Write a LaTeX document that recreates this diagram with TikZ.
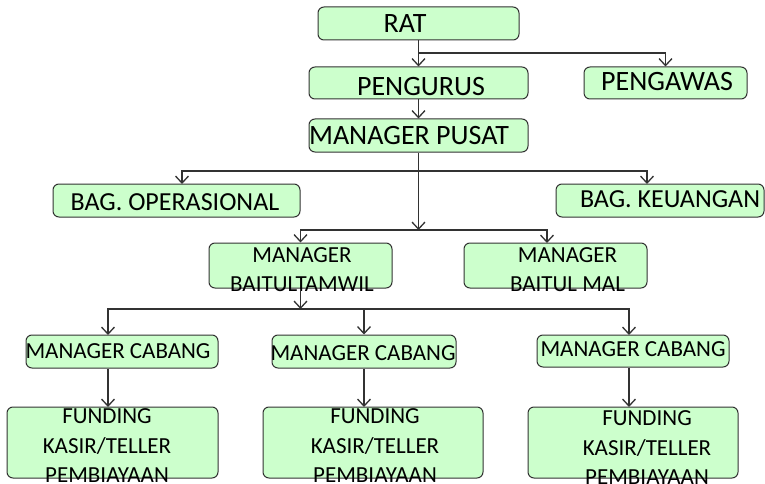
\documentclass[tikz,border=0pt]{standalone}
\usepackage{fontspec}
\setmainfont{Carlito}
\usetikzlibrary{arrows.meta}
\definecolor{mygreen}{RGB}{204, 255, 204}
\definecolor{mygray}{RGB}{50, 50, 50}
\tikzset{>={Straight Barb[length=7pt,width=13pt]}}
\tikzset{box/.style={draw=mygray, fill=mygreen, rounded corners=6pt, line width=1pt, inner sep=0pt},
  link/.style={mygray, line width=1.3pt},
  bigtxt/.style={inner sep=0pt, font=\fontsize{28}{30}\selectfont},
  midtxt/.style={inner sep=0pt, font=\fontsize{26}{28}\selectfont},
  smalltxt/.style={inner sep=0pt, align=center, font=\fontsize{23}{29.5}\selectfont}}

\begin{document}
\begin{tikzpicture}[x=1pt, y=-1pt]
\useasboundingbox (0, 0) rectangle (765, 484);

% boxes
\node[box, minimum width=201pt, minimum height=33pt] (rat) at (418.5, 23.5) {};
\node[box, minimum width=219pt, minimum height=32pt] (pengurus) at (418.5, 83) {};
\node[box, minimum width=163pt, minimum height=32pt] (pengawas) at (665.5, 83) {};
\node[box, minimum width=219pt, minimum height=33pt] (pusat) at (418.5, 135.5) {};
\node[box, minimum width=247pt, minimum height=33pt] (operasional) at (176.5, 200.5) {};
\node[box, minimum width=208pt, minimum height=33pt] (keuangan) at (660, 200.5) {};
\node[box, minimum width=183pt, minimum height=45pt] (tamwil) at (300.5, 265.5) {};
\node[box, minimum width=183pt, minimum height=45pt] (baitulmal) at (555.5, 265.5) {};
\node[box, minimum width=192pt, minimum height=33pt] (cabangA) at (122, 351.5) {};
\node[box, minimum width=184pt, minimum height=33pt] (cabangB) at (364, 351.5) {};
\node[box, minimum width=192pt, minimum height=32pt] (cabangC) at (633, 351) {};
\node[box, minimum width=211pt, minimum height=71pt] (fundA) at (112.5, 442.5) {};
\node[box, minimum width=220pt, minimum height=71pt] (fundB) at (373, 442.5) {};
\node[box, minimum width=210pt, minimum height=71pt] (fundC) at (633, 442.5) {};

% texts
\node[bigtxt] (rattxt) at (405, 24) {RAT};
\node[bigtxt] (pengurustxt) at (421, 87) {PENGURUS};
\node[bigtxt] (pengawastxt) at (667, 82) {PENGAWAS};
\node[bigtxt] (pusattxt) at (409, 136) {MANAGER PUSAT};
\node[midtxt] (operasionaltxt) at (175, 202) {BAG. OPERASIONAL};
\node[midtxt] (keuangantxt) at (670, 199) {BAG. KEUANGAN};
\node[smalltxt] (tamwiltxt) at (302, 269.5) {MANAGER\\BAITULTAMWIL};
\node[smalltxt] (baitulmaltxt) at (567.5, 269.5) {MANAGER\\BAITUL MAL};
\node[smalltxt] (cabangAtxt) at (118, 351) {MANAGER CABANG};
\node[smalltxt] (cabangBtxt) at (363, 353) {MANAGER CABANG};
\node[smalltxt] (cabangCtxt) at (633, 349) {MANAGER CABANG};
\node[smalltxt] (fundAtxt) at (107, 446) {FUNDING\\KASIR/TELLER\\PEMBIAYAAN};
\node[smalltxt] (fundBtxt) at (375, 446) {FUNDING\\KASIR/TELLER\\PEMBIAYAAN};
\node[smalltxt] (fundCtxt) at (647, 448) {FUNDING\\KASIR/TELLER\\PEMBIAYAAN};

% connectors
\coordinate (j1) at (418.5, 53);
\coordinate (j2) at (418.5, 171);
\coordinate (j3) at (418.5, 230);
\coordinate (j4) at (300.5, 309);
\coordinate (opin) at (182, 184);
\coordinate (keuin) at (647, 184);
\coordinate (malin) at (547, 243);
\coordinate (cabAin) at (108, 335);
\coordinate (cabCin) at (629, 335);
\coordinate (fundAin) at (108, 407);
\coordinate (fundBin) at (364, 407);
\coordinate (fundCin) at (629, 407);

\draw[link, ->] (rat.south) -- (pengurus.north);
\draw[link, ->] (j1) -| (pengawas.north);
\draw[link, ->] (pengurus.south) -- (pusat.north);
\draw[link, ->] (pusat.south) -- (j3);
\draw[link, ->] (j2) -| (opin);
\draw[link, ->] (j2) -| (keuin);
\draw[link, ->] (j3) -| (tamwil.north);
\draw[link, ->] (j3) -| (malin);
\draw[link, ->] (tamwil.south) -- (j4);
\draw[link, ->] (j4) -| (cabAin);
\draw[link, ->] (j4) -| (cabangB.north);
\draw[link, ->] (j4) -| (cabCin);
\draw[link, ->] (cabAin |- cabangA.south) -- (fundAin);
\draw[link, ->] (cabangB.south) -- (fundBin);
\draw[link, ->] (cabCin |- cabangC.south) -- (fundCin);
\end{tikzpicture}
\end{document}
